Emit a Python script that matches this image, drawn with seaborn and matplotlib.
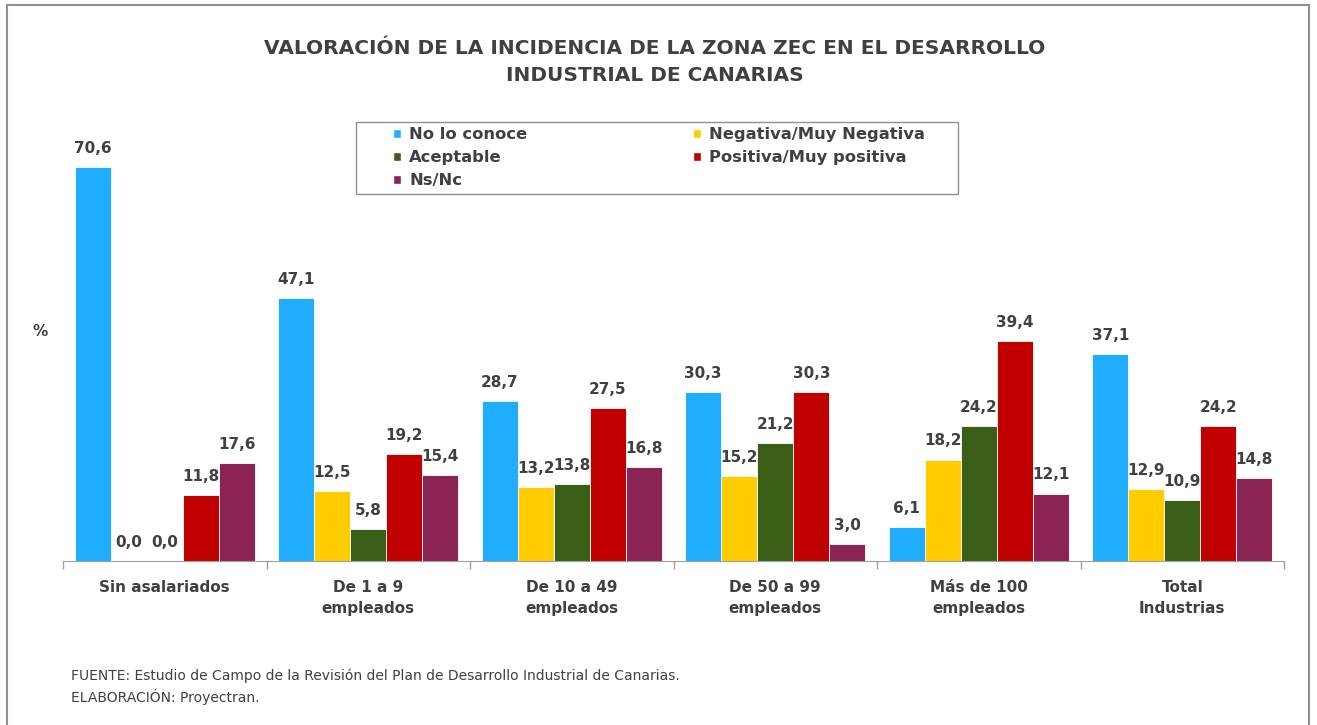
import matplotlib
matplotlib.use("Agg")
import matplotlib.pyplot as plt
from matplotlib.patches import Patch, Rectangle
import seaborn as sns
import pandas as pd

# categories and series
groups = ["Sin asalariados", "De 1 a 9\nempleados", "De 10 a 49\nempleados",
          "De 50 a 99\nempleados", "Más de 100\nempleados", "Total\nIndustrias"]
series = ["No lo conoce", "Negativa/Muy Negativa", "Aceptable",
          "Positiva/Muy positiva", "Ns/Nc"]
no_lo_conoce = [70.6, 47.1, 28.7, 30.3, 6.1, 37.1]
negativa = [0.0, 12.5, 13.2, 15.2, 18.2, 12.9]
aceptable = [0.0, 5.8, 13.8, 21.2, 24.2, 10.9]
positiva = [11.8, 19.2, 27.5, 30.3, 39.4, 24.2]
ns_nc = [17.6, 15.4, 16.8, 3.0, 12.1, 14.8]
colors = ["#21ADFF", "#FFCC00", "#3B5E16", "#C00000", "#8B2453"]

rows = []
for name, vals in zip(series, [no_lo_conoce, negativa, aceptable, positiva, ns_nc]):
    for g, v in zip(groups, vals):
        rows.append({"grupo": g, "serie": name, "valor": v})
df = pd.DataFrame(rows)

sns.set_style("white")
plt.rcParams["font.family"] = ["DejaVu Sans"]
txt = "#404040"

fig = plt.figure(figsize=(13.17, 7.25), dpi=100)
ax = fig.add_axes([63/1317, 164/725, 1221/1317, 446/725])

sns.barplot(data=df, x="grupo", y="valor", hue="serie", order=groups,
            hue_order=series, palette=colors, width=0.885, ax=ax, saturation=1,
            edgecolor="white", linewidth=0.6, legend=False, errorbar=None)

for c in ax.containers:
    ax.bar_label(c, labels=[f"{b.get_height():.1f}".replace(".", ",") for b in c],
                 padding=8, fontsize=11, fontweight="bold", color=txt)

ax.set_ylim(0, 80)
ax.set_xlim(-0.5, 5.5)
ax.set_xlabel("")
ax.set_ylabel("")
ax.set_yticks([])
for s in ["top", "right", "left"]:
    ax.spines[s].set_visible(False)
ax.spines["bottom"].set_color("#A0A0A0")
ax.set_xticks(range(len(groups)))
ax.set_xticklabels(groups, fontsize=11, fontweight="bold", color=txt, linespacing=1.5)
ax.set_xticks([i - 0.5 for i in range(len(groups) + 1)], minor=True)
ax.tick_params(axis="x", which="major", length=0, pad=14)
ax.tick_params(axis="x", which="minor", bottom=True, length=6, width=1,
               color="#A0A0A0", direction="out")

# legend: frame drawn separately so the padding can match
handles = [Patch(facecolor=colors[i], edgecolor="white") for i in [0, 2, 4, 1, 3]]
labels = [series[i] for i in [0, 2, 4, 1, 3]]
leg = fig.legend(handles, labels, ncol=2, loc="upper left",
                 bbox_to_anchor=(393/1317, 1 - 127/725), frameon=False,
                 prop={"weight": "bold", "size": 11.8}, handlelength=0.5, handleheight=0.5,
                 handletextpad=0.5, columnspacing=10.1, labelspacing=0.5,
                 borderpad=0, borderaxespad=0)
for t in leg.get_texts():
    t.set_color(txt)
fig.patches.append(Rectangle((356/1317, 1 - 194/725), 602/1317, 72/725,
                             transform=fig.transFigure, fill=False,
                             edgecolor="#909090", linewidth=1.0))

fig.text(655/1317, 1 - 62/725, "VALORACIÓN DE LA INCIDENCIA DE LA ZONA ZEC EN EL DESARROLLO\nINDUSTRIAL DE CANARIAS",
         ha="center", va="center", fontsize=14.5, fontweight="bold", color=txt, linespacing=1.55)
fig.text(40/1317, 1 - 331/725, "%", ha="center", va="center", fontsize=11,
         fontweight="bold", color=txt)
fig.text(71/1317, 1 - 676/725, "FUENTE: Estudio de Campo de la Revisión del Plan de Desarrollo Industrial de Canarias.",
         ha="left", va="center", fontsize=10, color=txt)
fig.text(71/1317, 1 - 697/725, "ELABORACIÓN: Proyectran.", ha="left", va="center",
         fontsize=10, color=txt)

fig.patches.append(Rectangle((7/1317, -0.02), 1302/1317, 1.02 - 5/725,
                             transform=fig.transFigure, fill=False,
                             edgecolor="#909090", linewidth=1.5))

fig.savefig("out.png", dpi=100)
